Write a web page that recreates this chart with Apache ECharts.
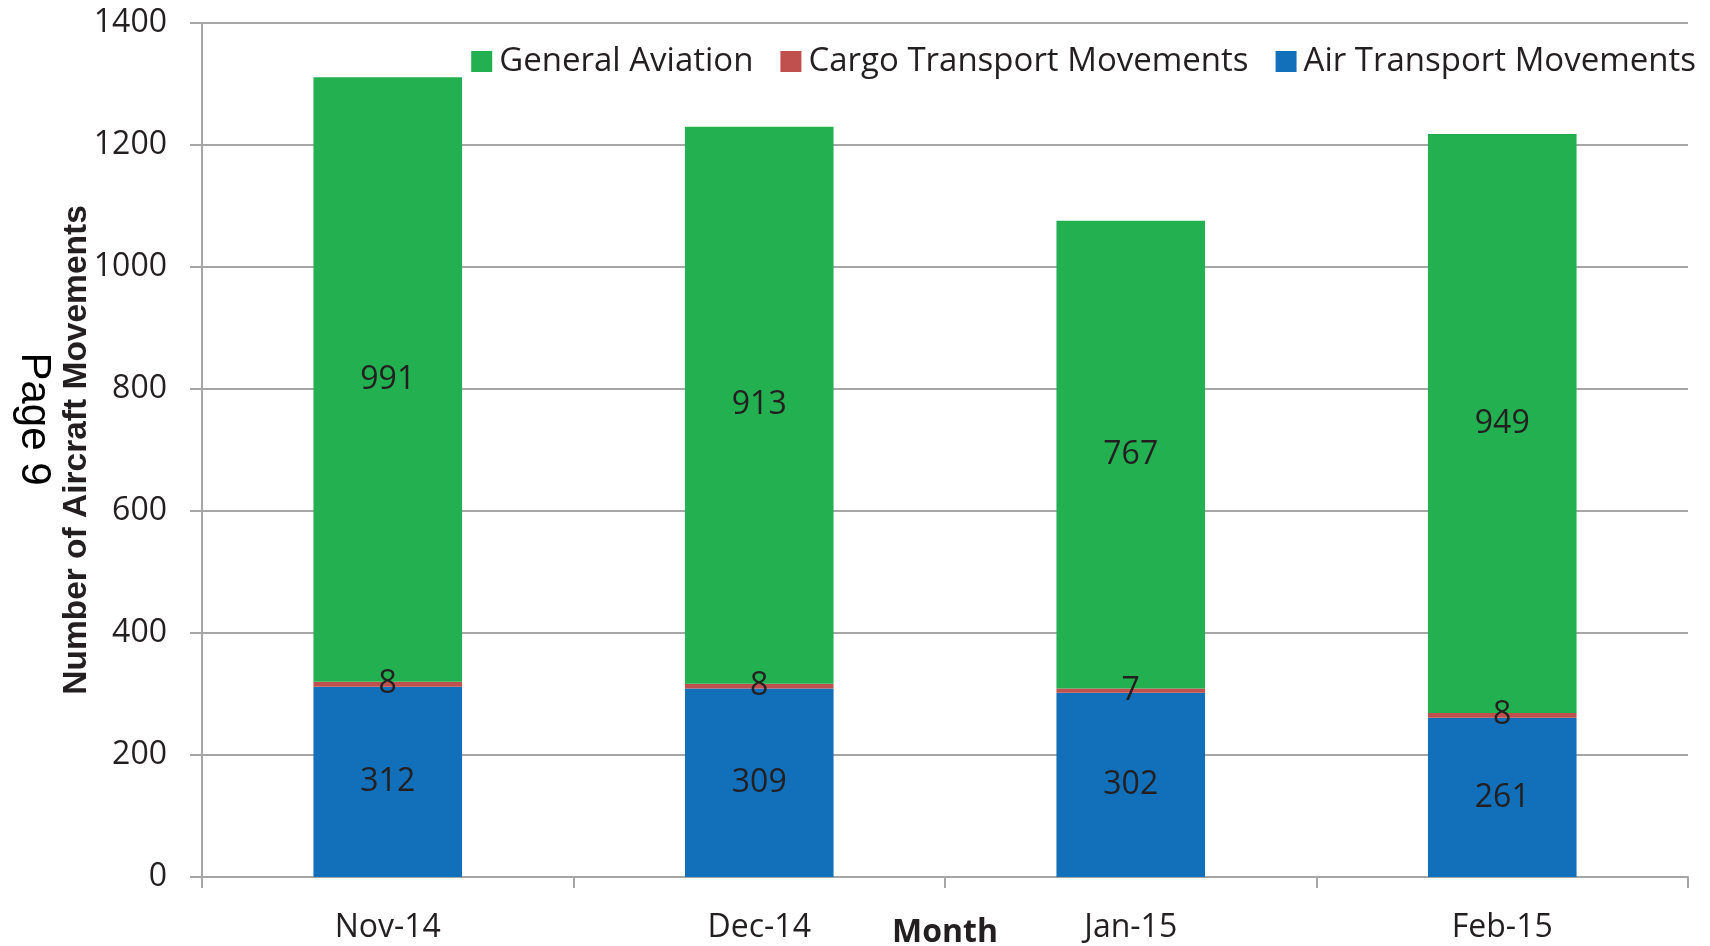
<!DOCTYPE html>
<html>
<head>
<meta charset="utf-8">
<title>Aircraft Movements</title>
<script src="https://cdn.jsdelivr.net/npm/echarts@6/dist/echarts.min.js"></script>
<style>
  html, body { margin: 0; padding: 0; background: #fff; }
  #chart { width: 1710px; height: 946px; }
</style>
</head>
<body>
<div id="chart"></div>
<script>
const months = ['Nov-14', 'Dec-14', 'Jan-15', 'Feb-15']
const airTransport = [312, 309, 302, 261]
const cargoTransport = [8, 8, 7, 8]
const generalAviation = [991, 913, 767, 949]
const yTicks = [0, 200, 400, 600, 800, 1000, 1200, 1400]

const textColor = '#231f20'
const gridColor = '#a6a6a6'
const font = '"Open Sans", sans-serif'

const chart = echarts.init(document.getElementById('chart'))

function barSeries(name, data, color) {
  return {
    name,
    type: 'bar',
    stack: 'total',
    data,
    barWidth: '40%',
    itemStyle: { color },
    label: {
      show: true,
      position: 'inside',
      color: textColor,
      fontSize: 32,
      fontFamily: font
    }
  }
}

chart.setOption({
  animation: false,
  grid: { left: 202, right: 22, top: 23, bottom: 69, outerBoundsMode: 'none' },
  legend: {
    data: ['General Aviation', 'Cargo Transport Movements', 'Air Transport Movements'],
    right: 9,
    top: 40,
    icon: 'rect',
    itemWidth: 21,
    itemHeight: 21,
    itemGap: 27,
    textStyle: { fontSize: 33, fontFamily: font, color: textColor, padding: [0, 0, 0, 2] }
  },
  xAxis: {
    type: 'category',
    data: months,
    name: 'Month',
    nameLocation: 'middle',
    nameGap: 40,
    nameMoveOverlap: false,
    nameTextStyle: { fontSize: 32, fontWeight: 'bold', fontFamily: font, color: textColor },
    axisLine: { lineStyle: { color: gridColor, width: 2 } },
    axisTick: { show: true, length: 11, lineStyle: { color: gridColor, width: 2 } },
    axisLabel: { fontSize: 32, fontFamily: font, color: textColor, margin: 35 }
  },
  yAxis: {
    type: 'value',
    min: yTicks[0],
    max: yTicks[yTicks.length - 1],
    interval: 200,
    name: 'Number of Aircraft Movements',
    nameLocation: 'middle',
    nameGap: 108,
    nameMoveOverlap: false,
    nameTextStyle: { fontSize: 33.5, fontWeight: 'bold', fontFamily: '"Liberation Sans", Arial, sans-serif', color: textColor },
    axisLine: { show: true, lineStyle: { color: gridColor, width: 2 } },
    axisTick: { show: true, length: 12, lineStyle: { color: gridColor, width: 2 } },
    axisLabel: { fontSize: 32, fontFamily: font, color: textColor, margin: 35, formatter: (v) => String(v) },
    splitLine: { lineStyle: { color: gridColor, width: 2 } }
  },
  graphic: [
    {
      type: 'text',
      x: 34,
      y: 419,
      rotation: -Math.PI / 2,
      style: {
        text: 'Page 9',
        fontSize: 42,
        fontFamily: '"Liberation Sans", Arial, sans-serif',
        fill: '#000',
        align: 'center',
        verticalAlign: 'middle'
      }
    }
  ],
  series: [
    barSeries('Air Transport Movements', airTransport, '#1170b9'),
    barSeries('Cargo Transport Movements', cargoTransport, '#c0504d'),
    barSeries('General Aviation', generalAviation, '#23b050')
  ]
})
</script>
</body>
</html>
